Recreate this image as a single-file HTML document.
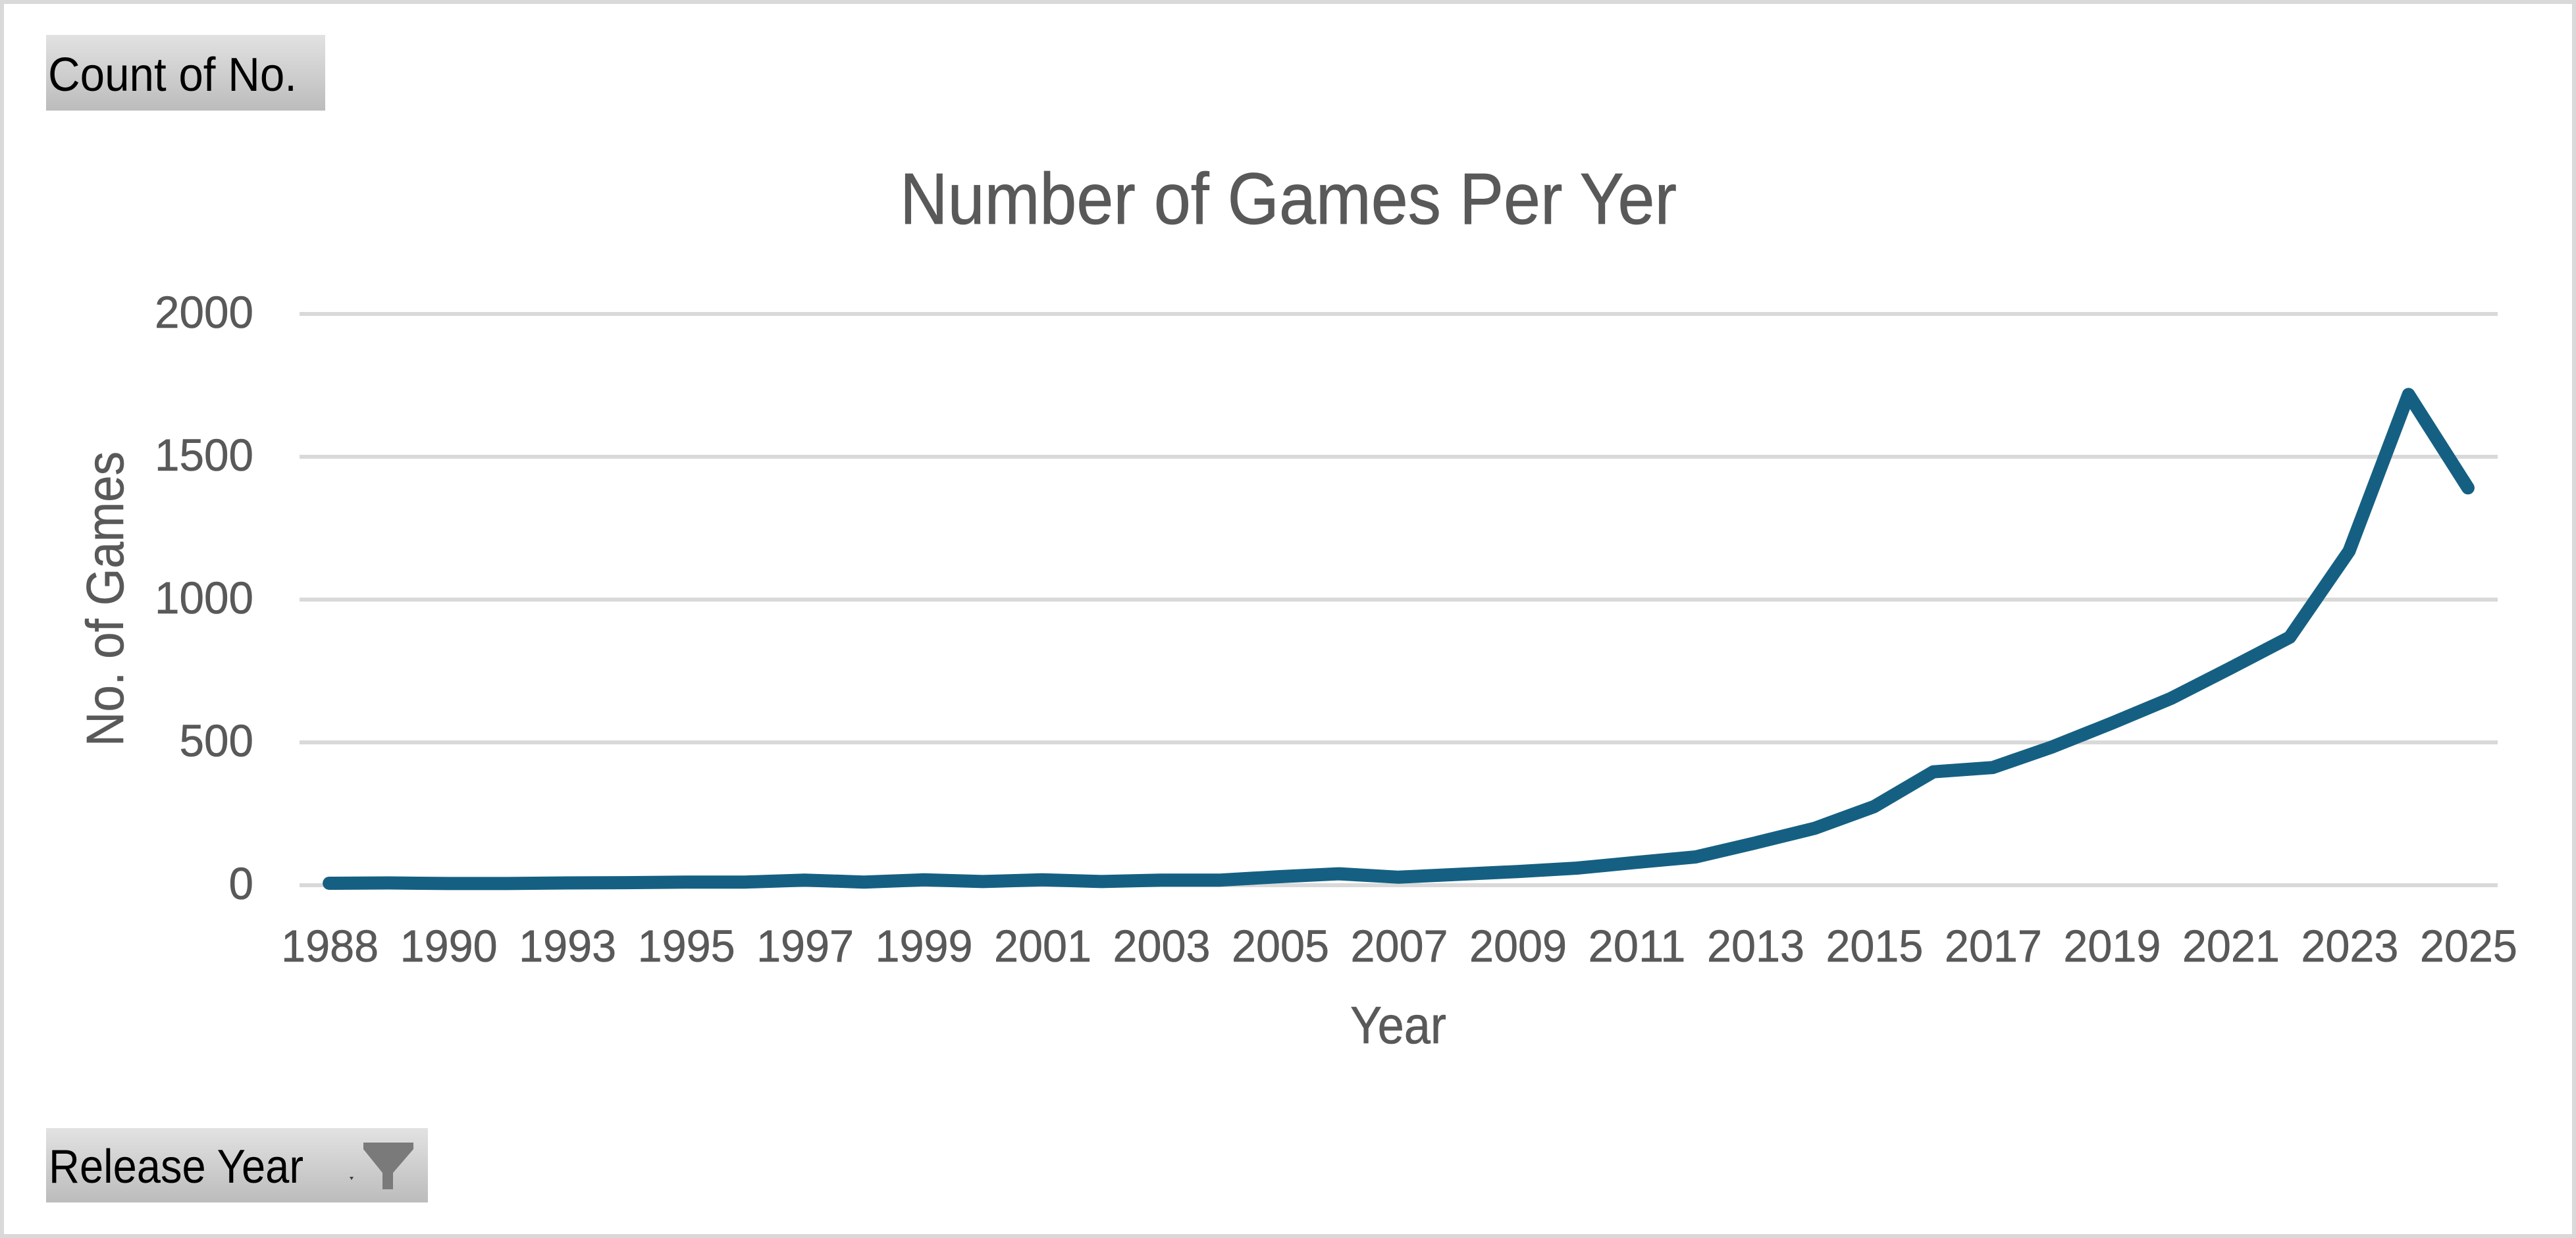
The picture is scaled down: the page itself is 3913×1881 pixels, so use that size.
<!DOCTYPE html>
<html lang="en">
<head>
<meta charset="utf-8">
<title>Number of Games Per Yer</title>
<style>
html,body{margin:0;padding:0;background:#fff;width:3913px;height:1881px;overflow:hidden}
svg{display:block}
text{font-family:"Liberation Sans",Arial,sans-serif}
</style>
</head>
<body>
<svg id="chart" xmlns="http://www.w3.org/2000/svg" width="3913" height="1881" viewBox="0 0 3913 1881">
  <defs>
    <linearGradient id="btnGrad" x1="0" y1="0" x2="0" y2="1">
      <stop offset="0" stop-color="#e2e2e2"/>
      <stop offset="1" stop-color="#bcbcbc"/>
    </linearGradient>
  </defs>
  <rect x="3" y="3" width="3907" height="1875" fill="#ffffff" stroke="#d9d9d9" stroke-width="6"/>

  <g>
    <rect x="70" y="53" width="424" height="115" fill="url(#btnGrad)"/>
    <text x="73" y="138" font-size="72" fill="#000000" textLength="378" lengthAdjust="spacingAndGlyphs">Count of No.</text>
  </g>

  <text x="1957" y="340" font-size="110" fill="#595959" stroke="#595959" stroke-width="0.8" text-anchor="middle" textLength="1180" lengthAdjust="spacingAndGlyphs">Number of Games Per Yer</text>

  <g id="grid"></g>
  <g id="yLabels"></g>
  <g id="xLabels"></g>
  <g id="series"></g>

  <text transform="translate(187,1134) rotate(-90)" x="0" y="0" font-size="80" fill="#595959" stroke="#595959" stroke-width="0.6" textLength="448" lengthAdjust="spacingAndGlyphs">No. of Games</text>
  <text x="2124" y="1585" font-size="80" fill="#595959" stroke="#595959" stroke-width="0.6" text-anchor="middle" textLength="146" lengthAdjust="spacingAndGlyphs">Year</text>

  <g>
    <rect x="70" y="1714" width="580" height="113" fill="url(#btnGrad)"/>
    <text x="74" y="1797" font-size="72" fill="#000000" textLength="387" lengthAdjust="spacingAndGlyphs">Release Year</text>
    <polygon points="531,1788 537,1788 534,1793" fill="#404040"/>
    <polygon points="552,1736 628,1736 628,1746 597,1782 597,1807 581,1807 581,1782 552,1746" fill="#7a7a7a"/>
  </g>
</svg>
<script>
const categories = [1988,1989,1990,1992,1993,1994,1995,1996,1997,1998,1999,2000,2001,2002,2003,2004,2005,2006,2007,2008,2009,2010,2011,2012,2013,2014,2015,2016,2017,2018,2019,2020,2021,2022,2023,2024,2025];
const gameCounts = [7,8,6,6,8,9,11,11,18,11,19,13,19,13,18,18,30,40,28,38,48,60,80,99,148,199,275,397,412,484,567,654,760,868,1170,1718,1391];
const yTicks = [0,500,1000,1500,2000];

const NS = 'http://www.w3.org/2000/svg';
const plotLeft = 455, plotRight = 3794, plotBottom = 1345, plotTop = 477, yMax = 2000;
const xScale = i => plotLeft + (i + 0.5) * (plotRight - plotLeft) / categories.length;
const yScale = v => plotBottom - v / yMax * (plotBottom - plotTop);

const grid = document.getElementById('grid');
const yLabels = document.getElementById('yLabels');
const xLabels = document.getElementById('xLabels');
const series = document.getElementById('series');

yTicks.forEach(t => {
  const line = document.createElementNS(NS, 'line');
  
  
  line.setAttribute('x1', plotLeft);
  line.setAttribute('x2', plotRight);
  line.setAttribute('y1', yScale(t));
  line.setAttribute('y2', yScale(t));
  line.setAttribute('stroke', '#d9d9d9');
  line.setAttribute('stroke-width', '6');
  grid.appendChild(line);

  const label = document.createElementNS(NS, 'text');
  
  
  label.setAttribute('x', 385);
  label.setAttribute('y', yScale(t) + 21);
  label.setAttribute('font-size', '69');
  label.setAttribute('fill', '#595959');
  label.setAttribute('stroke', '#595959');
  label.setAttribute('stroke-width', '0.6');
  label.setAttribute('text-anchor', 'end');
  label.setAttribute('textLength', String(t).length * 37.5);
  label.setAttribute('lengthAdjust', 'spacingAndGlyphs');
  label.textContent = t;
  yLabels.appendChild(label);
});

categories.forEach((c, i) => {
  if (i % 2 !== 0) return;
  const label = document.createElementNS(NS, 'text');
  
  
  label.setAttribute('x', xScale(i) + 1);
  label.setAttribute('y', 1461);
  label.setAttribute('font-size', '69');
  label.setAttribute('fill', '#595959');
  label.setAttribute('stroke', '#595959');
  label.setAttribute('stroke-width', '0.6');
  label.setAttribute('text-anchor', 'middle');
  label.setAttribute('textLength', '148');
  label.setAttribute('lengthAdjust', 'spacingAndGlyphs');
  label.textContent = c;
  xLabels.appendChild(label);
});

const trend = document.createElementNS(NS, 'polyline');


trend.setAttribute('points', gameCounts.map((v, i) => xScale(i).toFixed(1) + ',' + yScale(v).toFixed(1)).join(' '));
trend.setAttribute('fill', 'none');
trend.setAttribute('stroke', '#156082');
trend.setAttribute('stroke-width', '20');
trend.setAttribute('stroke-linecap', 'round');
trend.setAttribute('stroke-linejoin', 'round');
series.appendChild(trend);
</script>
</body>
</html>
